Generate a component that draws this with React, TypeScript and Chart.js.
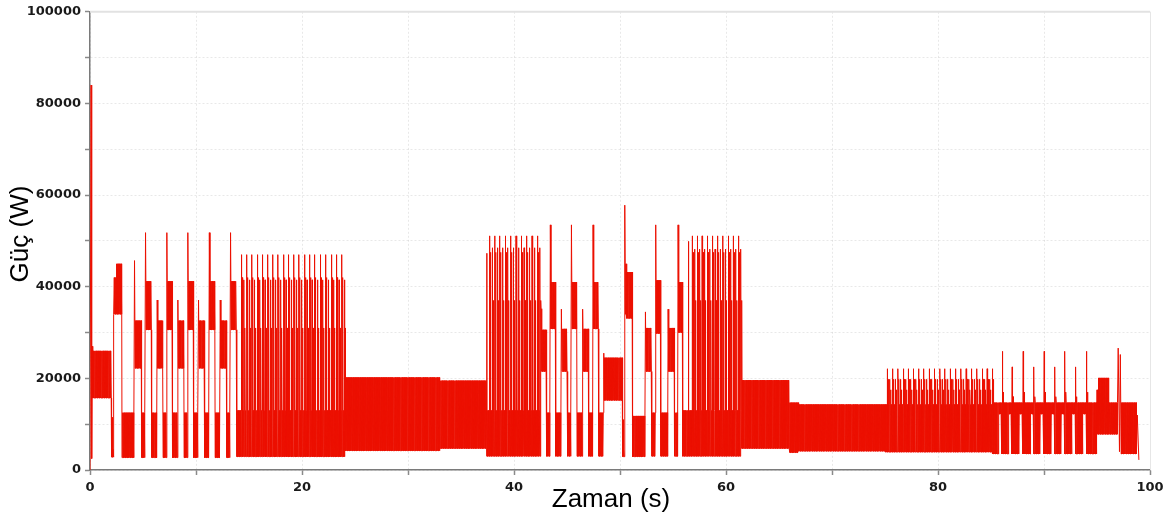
import React, { useEffect, useRef } from 'react';
import { Chart, registerables } from 'chart.js';

Chart.register(...registerables);

type Band = [number, number, number, number]; // [start s, end s, low W, high W]
type Sample = [number, number]; // [time s, W]

// ---- axis ticks ----
const xTickLabels = [0, 20, 40, 60, 80, 100];
const yTickLabels = [0, 20000, 40000, 60000, 80000, 100000];

// ---- dense switching bands (signal toggles between low and high) ----
const bandsStartup: Band[] = [
  [0.26, 2.0, 15700, 26000],
  [2.02, 2.2, 2800, 4500],
  [2.26, 2.5, 34000, 42000],
  [2.5, 3.0, 34000, 45000],
  [3.02, 4.15, 2700, 12500],
];
const bandsPulsesA: Band[] = [
  [4.26, 4.83, 22200, 32600],
  [4.85, 5.18, 2700, 12500],
  [5.3, 5.78, 30600, 41200],
  [5.8, 6.28, 2700, 12500],
  [6.4, 6.87, 22200, 32600],
  [6.9, 7.19, 2700, 12500],
  [7.31, 7.77, 30600, 41200],
  [7.8, 8.23, 2700, 12500],
  [8.35, 8.85, 22200, 32600],
  [8.88, 9.17, 2700, 12500],
  [9.29, 9.76, 30600, 41200],
  [9.79, 10.18, 2700, 12500],
  [10.3, 10.8, 22200, 32600],
  [10.83, 11.2, 2700, 12500],
  [11.32, 11.78, 30600, 41200],
  [11.81, 12.23, 2700, 12500],
  [12.35, 12.85, 22200, 32600],
  [12.88, 13.2, 2700, 12500],
  [13.32, 13.8, 30600, 41200],
];
const bandsMid: Band[] = [
  [13.83, 24.05, 2900, 13000],
  [24.08, 33.0, 4200, 20200],
  [33.02, 37.38, 4700, 19500],
  [37.42, 42.5, 3000, 13000],
];
const bandsPulsesB: Band[] = [
  [42.6, 43.06, 21500, 30600],
  [43.09, 43.38, 3000, 12500],
  [43.49, 43.92, 30800, 41000],
  [43.95, 44.42, 3000, 12500],
  [44.53, 45.0, 21500, 30800],
  [45.03, 45.37, 3000, 12500],
  [45.48, 45.92, 30800, 41000],
  [45.95, 46.45, 3000, 12500],
  [46.56, 47.03, 21500, 30800],
  [47.06, 47.41, 3000, 12500],
  [47.52, 47.95, 30800, 41000],
  [47.98, 48.42, 3000, 12500],
  [48.5, 50.2, 15200, 24500],
  [50.23, 50.4, 2900, 4500],
  [50.52, 50.62, 34000, 45000],
  [50.64, 51.17, 33100, 43200],
  [51.2, 52.35, 2900, 11800],
  [52.46, 52.95, 21500, 31000],
  [52.98, 53.32, 3000, 12500],
  [53.42, 53.8, 29800, 41400],
  [53.83, 54.49, 3000, 12500],
  [54.6, 55.1, 21500, 31000],
  [55.13, 55.43, 3000, 12500],
  [55.54, 55.9, 30000, 41000],
];
const bandsLate: Band[] = [
  [55.93, 61.42, 3000, 13000],
  [61.46, 65.96, 4700, 19600],
  [66.0, 66.8, 3800, 14700],
  [66.82, 75.0, 4100, 14300],
  [75.02, 85.13, 3900, 14300],
];
const bandsEnd: Band[] = [
  [85.15, 85.69, 3500, 14700],
  [85.71, 86.01, 12200, 14700],
  [86.03, 86.63, 3500, 14700],
  [86.65, 86.95, 12200, 14700],
  [86.97, 87.67, 3500, 14700],
  [87.69, 87.99, 12200, 14700],
  [88.01, 88.68, 3500, 14700],
  [88.7, 89.0, 12200, 14700],
  [89.02, 89.65, 3500, 14700],
  [89.67, 89.97, 12200, 14700],
  [89.99, 90.66, 3500, 14700],
  [90.68, 90.98, 12200, 14700],
  [91.0, 91.6, 3500, 14700],
  [91.62, 91.92, 12200, 14700],
  [91.94, 92.62, 3500, 14700],
  [92.64, 92.94, 12200, 14700],
  [92.96, 93.65, 3500, 14700],
  [93.67, 93.97, 12200, 14700],
  [93.99, 94.95, 3500, 14700],
  [94.97, 95.1, 7800, 17500],
  [95.12, 96.05, 7800, 20100],
  [96.07, 96.95, 7800, 14700],
  [97.28, 98.72, 3500, 14700],
];

// ---- single samples: transients and peaks ----
const samplesStartup: Sample[] = [
  [0, 0], [0.1, 84000], [0.16, 2500], [0.22, 27000], [2.12, 11500], [4.2, 45700],
];
const samplesPulsesA: Sample[] = [
  [5.24, 51800], [6.34, 37100], [7.25, 51800], [8.29, 37100], [9.23, 51800],
  [10.24, 37100], [11.26, 51800], [12.29, 37100], [13.26, 51800],
];
const samplesPulsesB: Sample[] = [
  [24.06, 20800], [37.45, 47300],
  [42.55, 35200], [43.43, 53500], [44.47, 35100], [45.42, 53500], [46.5, 35100],
  [47.46, 53500], [48.47, 25500], [50.3, 11000], [50.45, 57800], [52.4, 34500],
  [53.37, 53500], [54.54, 35100], [55.48, 53500], [56.44, 49900],
];
const samplesEnd: Sample[] = [
  [97.0, 26600], [97.12, 4000], [97.2, 25200], [98.8, 12000], [98.95, 2200],
];

// ---- repeated switching peaks: times (s), peak level and the level it falls back to (W) ----
const mesh1TallTimes = [14.27, 14.8, 15.27, 15.78, 16.25, 16.78, 17.25, 17.73, 18.26, 18.73,
  19.24, 19.71, 20.25, 20.72, 21.19, 21.73, 22.23, 22.77, 23.24, 23.77];
const mesh1TallLevel = 47000;
const mesh1TallShoulder = 42000;
const mesh1ShortTimes = [14.52, 15.03, 15.52, 16.02, 16.52, 17.02, 17.49, 18.0, 18.5, 18.99,
  19.48, 19.98, 20.48, 20.96, 21.46, 21.98, 22.5, 23.0, 23.5, 24.0];
const mesh1ShortLevel = 41500;
const mesh1ShortShoulder = 31000;

const mesh2TallTimes = [37.7, 38.2, 38.67, 39.18, 39.69, 40.19, 40.7, 41.2, 41.7, 42.2];
const mesh2TallLevel = 51100;
const mesh2TallShoulder = 47500;
const mesh2ShortTimes = [37.95, 38.45, 38.93, 39.43, 39.94, 40.45, 40.95, 41.45, 41.95, 42.45];
const mesh2ShortLevel = 48500;
const mesh2ShortShoulder = 37000;

const mesh3TallTimes = [56.8, 57.28, 57.75, 58.22, 58.73, 59.2, 59.7, 60.2, 60.67, 61.18];
const mesh3TallLevel = 51100;
const mesh3TallShoulder = 47500;
const mesh3ShortTimes = [57.04, 57.52, 57.98, 58.48, 58.97, 59.45, 59.95, 60.44, 60.93, 61.4];
const mesh3ShortLevel = 48200;
const mesh3ShortShoulder = 37000;

const mesh4TallTimes = [75.2, 75.72, 76.22, 76.72, 77.19, 77.66, 78.17, 78.67, 79.17, 79.64,
  80.18, 80.65, 81.15, 81.66, 82.16, 82.66, 83.17, 83.67, 84.17, 84.64, 85.12];
const mesh4TallLevel = 22100;
const mesh4TallShoulder = 19800;
const mesh4ShortTimes = [75.45, 75.97, 76.47, 76.95, 77.42, 77.92, 78.42, 78.92, 79.4, 79.91,
  80.42, 80.9, 81.4, 81.91, 82.41, 82.92, 83.42, 83.92, 84.4, 84.88];
const mesh4ShortLevel = 19800;
const mesh4ShortShoulder = 17500;

const endTallTimes = [86.06, 88.04, 90.02, 91.97, 94.02];
const endTallLevel = 25900;
const endTallShoulder = 17000;
const endShortTimes = [87.0, 89.05, 91.03, 92.99];
const endShortLevel = 22500;
const endShortShoulder = 16000;

const STEP = 0.03; // sampling of a switching band (s)
const PEAK_HOLD = 0.09; // time from a switching peak to its fall-back sample (s)

function buildPoints() {
  const pts: { x: number; y: number }[] = [];
  const bands = [...bandsStartup, ...bandsPulsesA, ...bandsMid, ...bandsPulsesB, ...bandsLate, ...bandsEnd];
  for (const [t0, t1, lo, hi] of bands) {
    const n = Math.max(1, Math.round((t1 - t0) / STEP));
    for (let k = 0; k <= n; k++) {
      pts.push({ x: t0 + ((t1 - t0) * k) / n, y: k % 2 === 0 ? lo : hi });
    }
  }
  const samples = [...samplesStartup, ...samplesPulsesA, ...samplesPulsesB, ...samplesEnd];
  for (const [t, v] of samples) pts.push({ x: t, y: v });
  const peakSets: [number[], number, number][] = [
    [mesh1TallTimes, mesh1TallLevel, mesh1TallShoulder], [mesh1ShortTimes, mesh1ShortLevel, mesh1ShortShoulder],
    [mesh2TallTimes, mesh2TallLevel, mesh2TallShoulder], [mesh2ShortTimes, mesh2ShortLevel, mesh2ShortShoulder],
    [mesh3TallTimes, mesh3TallLevel, mesh3TallShoulder], [mesh3ShortTimes, mesh3ShortLevel, mesh3ShortShoulder],
    [mesh4TallTimes, mesh4TallLevel, mesh4TallShoulder], [mesh4ShortTimes, mesh4ShortLevel, mesh4ShortShoulder],
    [endTallTimes, endTallLevel, endTallShoulder], [endShortTimes, endShortLevel, endShortShoulder],
  ];
  for (const [times, level, shoulder] of peakSets) {
    for (const t of times) {
      pts.push({ x: t, y: level });
      pts.push({ x: t + PEAK_HOLD, y: shoulder });
    }
  }
  pts.sort((a, b) => a.x - b.x);
  return pts;
}

const framePlugin = {
  id: 'frame',
  beforeDatasetsDraw(chart: any) {
    const { ctx, chartArea } = chart;
    ctx.save();
    ctx.strokeStyle = '#e2e2e2';
    ctx.lineWidth = 2;
    ctx.beginPath();
    ctx.moveTo(chartArea.left, chartArea.top);
    ctx.lineTo(chartArea.right, chartArea.top);
    ctx.stroke();
    ctx.lineWidth = 1;
    ctx.strokeStyle = '#e6e6e6';
    ctx.beginPath();
    ctx.moveTo(chartArea.right + 0.5, chartArea.top);
    ctx.lineTo(chartArea.right + 0.5, chartArea.bottom);
    ctx.stroke();
    ctx.restore();
  },
  afterDraw(chart: any) {
    const { ctx } = chart;
    ctx.save();
    ctx.fillStyle = '#000';
    ctx.font = '26px "Liberation Sans", Arial, sans-serif';
    ctx.textAlign = 'center';
    ctx.textBaseline = 'alphabetic';
    ctx.fillText('Zaman (s)', 611, 507);
    ctx.translate(28, 234);
    ctx.rotate(-Math.PI / 2);
    ctx.fillText('Güç (W)', 0, 0);
    ctx.restore();
  },
};

export default function App() {
  const ref = useRef<HTMLCanvasElement | null>(null);
  useEffect(() => {
    if (!ref.current) return;
    const tickFont = { family: '"DejaVu Sans", sans-serif', size: 13, weight: 'bold' as const };
    const chart = new Chart(ref.current, {
      type: 'line',
      data: {
        datasets: [
          {
            data: buildPoints(),
            borderColor: '#ec1000',
            borderWidth: 1,
            pointRadius: 0,
            tension: 0,
            fill: false,
          },
        ],
      },
      options: {
        animation: false,
        responsive: false,
        devicePixelRatio: 1,
        parsing: false,
        normalized: true,
        layout: { padding: { left: 0, right: 21, top: 8, bottom: 0 } },
        plugins: { legend: { display: false }, tooltip: { enabled: false } },
        scales: {
          x: {
            type: 'linear',
            min: 0,
            max: 100,
            afterFit: (s: any) => { s.height = 50; },
            ticks: {
              stepSize: 10,
              autoSkip: false,
              maxRotation: 0,
              padding: 5,
              color: '#1a1a1a',
              font: tickFont,
              callback: (v: any) => (xTickLabels.includes(Number(v)) ? String(v) : ''),
            },
            grid: { color: 'rgba(0,0,0,0.09)', tickColor: '#8a8a8a', tickLength: 5, tickWidth: 1.5, tickBorderDash: [] },
            border: { color: '#7a7a7a', width: 1.5, dash: [2, 2] },
          },
          y: {
            type: 'linear',
            min: 0,
            max: 100000,
            afterFit: (s: any) => { s.width = 90; },
            ticks: {
              stepSize: 10000,
              autoSkip: false,
              padding: 4,
              color: '#1a1a1a',
              font: tickFont,
              callback: (v: any) => (yTickLabels.includes(Number(v)) ? String(v) : ''),
            },
            grid: { color: 'rgba(0,0,0,0.09)', tickColor: '#8a8a8a', tickLength: 5, tickWidth: 1.5, tickBorderDash: [] },
            border: { color: '#7a7a7a', width: 1.5, dash: [2, 2] },
          },
        },
      },
      plugins: [framePlugin],
    } as any);
    return () => chart.destroy();
  }, []);
  return (
    <div style={{ position: 'fixed', left: 0, top: 0, width: 1171, height: 520, background: '#fff' }}>
      <canvas ref={ref} width={1171} height={520} style={{ display: 'block' }} />
    </div>
  );
}
